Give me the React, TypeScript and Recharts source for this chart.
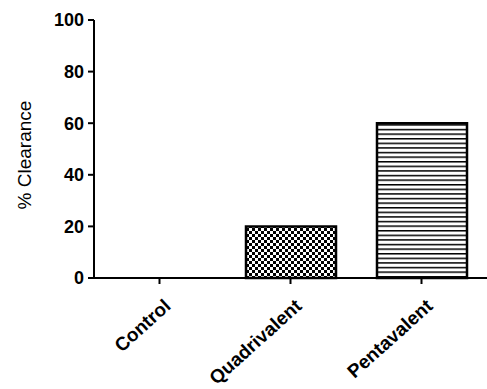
import React from 'react';
import { BarChart, Bar, XAxis, YAxis, Cell } from 'recharts';

const groups = ['Control', 'Quadrivalent', 'Pentavalent'];
const clearance = [0, 20, 60];
const yTicks = [0, 20, 40, 60, 80, 100];
const fills = ['#ffffff', 'url(#checker)', 'url(#hlines)'];

const data = groups.map((g, i) => ({ name: g, value: clearance[i] }));

const font = '"Liberation Sans", Arial, sans-serif';

const SlantTick = ({ x, y, payload }: any) => (
  <text
    x={0}
    y={0}
    transform={`translate(${x + 9},${y + 18}) rotate(-42)`}
    textAnchor="end"
    dominantBaseline="middle"
    fontFamily={font}
    fontWeight="bold"
    fontSize={19}
    fill="#000"
  >
    {payload.value}
  </text>
);

const YLabel = ({ viewBox }: any) => {
  const cx = viewBox.x + 31;
  const cy = viewBox.y + viewBox.height / 2 + 6;
  return (
    <text
      x={cx}
      y={cy}
      transform={`rotate(-90, ${cx}, ${cy})`}
      textAnchor="middle"
      fontFamily={font}
      fontSize={19}
      fill="#000"
    >
      % Clearance
    </text>
  );
};

export default function App() {
  return (
    <div style={{ position: 'absolute', left: 0, top: 0, background: '#fff' }}>
      <BarChart
        width={487}
        height={389}
        data={data}
        margin={{ top: 20, right: 0, bottom: 0, left: 0 }}
        barCategoryGap={0}
      >
        <defs>
          <pattern id="checker" patternUnits="userSpaceOnUse" width={6} height={6}>
            <rect width={6} height={6} fill="#fff" />
            <rect x={0} y={0} width={3} height={3} fill="#000" />
            <rect x={3} y={3} width={3} height={3} fill="#000" />
          </pattern>
          <pattern id="hlines" patternUnits="userSpaceOnUse" width={6} height={4.6}>
            <rect width={6} height={4.6} fill="#fff" />
            <rect x={0} y={0} width={6} height={1.5} fill="#000" />
          </pattern>
        </defs>
        <XAxis
          dataKey="name"
          height={111}
          interval={0}
          tick={<SlantTick />}
          tickSize={6}
          axisLine={{ stroke: '#000', strokeWidth: 2 }}
          tickLine={{ stroke: '#000', strokeWidth: 2 }}
        />
        <YAxis
          width={94}
          domain={[0, 100]}
          ticks={yTicks}
          interval={0}
          tickSize={6}
          tickMargin={4}
          axisLine={{ stroke: '#000', strokeWidth: 2 }}
          tickLine={{ stroke: '#000', strokeWidth: 2 }}
          tick={{ fill: '#000', fontFamily: font, fontWeight: 'bold', fontSize: 18 }}
          label={<YLabel />}
        />
        <Bar dataKey="value" barSize={90} stroke="#000" strokeWidth={2.5} isAnimationActive={false}>
          {data.map((d, i) => (
            <Cell key={d.name} fill={fills[i]} />
          ))}
        </Bar>
      </BarChart>
    </div>
  );
}
